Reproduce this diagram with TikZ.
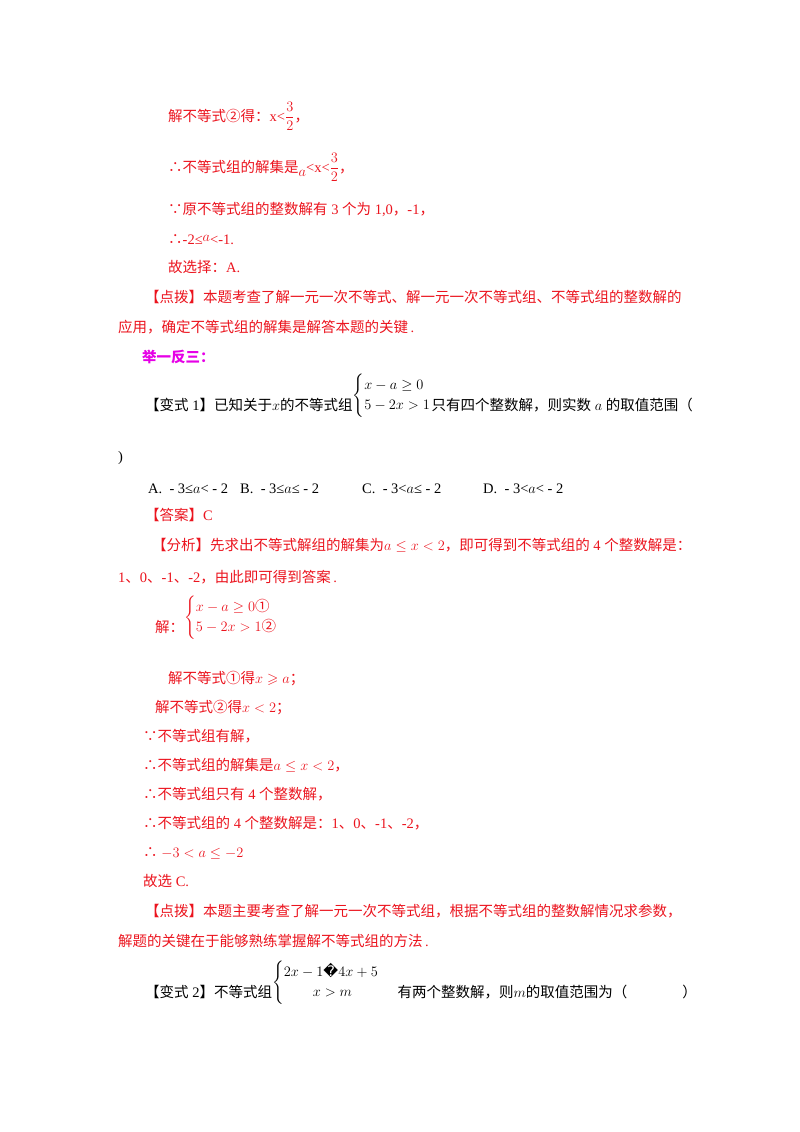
\documentclass[tikz,border=0pt]{standalone}
\usepackage{amsmath,amssymb}
\usepackage{fontspec}
\setmainfont{Liberation Serif}
\newfontfamily\cjk{Noto Sans CJK SC}
\newfontfamily\dv{DejaVu Sans}
\newcommand\zh[1]{{\cjk #1}}
\definecolor{tred}{RGB}{235,20,30}
\definecolor{tmag}{RGB}{230,0,230}
\tikzset{t/.style={anchor=base west,inner sep=0pt,font=\fontsize{14.5}{17}\selectfont},
 r/.style={t,text=tred}}
\begin{document}
\begin{tikzpicture}[x=1pt,y=-1pt]
\useasboundingbox (0,0) rectangle (800,1132);
\node[r] (l1) at (168,121) {\zh{解不等式②得：}x<$\dfrac{3}{2}$\zh{，}};
\node[r] (l2) at (168,172) {\zh{∴不等式组的解集是}\raisebox{-4pt}{$a$}<x<$\dfrac{3}{2}$\zh{，}};
\node[r] (l3) at (168,214) {\zh{∵原不等式组的整数解有} 3 \zh{个为} 1,0\zh{，}-1\zh{，}};
\node[r] (l4) at (168,244) {\zh{∴}-2≤\raisebox{3pt}{$a$}<-1.};
\node[r] (l5) at (168,272) {\zh{故选择：}A.};
\node[r] (l6) at (145,302) {\zh{【点拨】本题考查了解一元一次不等式、解一元一次不等式组、不等式组的整数解的}};
\node[r] (l7) at (118,332) {\zh{应用，确定不等式组的解集是解答本题的关键}\,.};
\node[t,text=tmag,font=\fontsize{14.5}{17}\selectfont\bfseries] (l8) at (142,362) {\zh{举一反三：}};
\node[t] (l9) at (145,410) {\zh{【变式} 1\zh{】已知关于}$x$\zh{的不等式组}\raisebox{11pt}{$\begin{cases}x-a\geq0\\5-2x>1\end{cases}$}\hspace{-14pt}\zh{只有四个整数解，则实数}~$a$~\zh{的取值范围（}};
\node[t] (l10) at (118,461) {)};
\node[t] (oa) at (148,493) {A.\ \ - 3≤$a$< - 2};
\node[t] (ob) at (240,493) {B.\ \ - 3≤$a$≤ - 2};
\node[t] (oc) at (362,493) {C.\ \ - 3<$a$≤ - 2};
\node[t] (od) at (483,493) {D.\ \ - 3<$a$< - 2};
\node[r] (l12) at (145,520) {\zh{【答案】}C};
\node[r] (l13) at (152,550) {\zh{【分析】先求出不等式解组的解集为}$a\leq x<2$\zh{，即可得到不等式组的} 4 \zh{个整数解是：}};
\node[r] (l14) at (118,582) {1\zh{、}0\zh{、}-1\zh{、}-2\zh{，由此即可得到答案}\,.};
\node[r] (l15) at (155,632) {\zh{解：}\raisebox{11pt}{$\begin{cases}x-a\geq0\text{\zh{①}}\\5-2x>1\text{\zh{②}}\end{cases}$}};
\node[r] (l16) at (168,683) {\zh{解不等式①得}$x\geqslant a$\zh{；}};
\node[r] (l17) at (155,712) {\zh{解不等式②得}$x<2$\zh{；}};
\node[r] (l18) at (143,741) {\zh{∵不等式组有解，}};
\node[r] (l19) at (143,770) {\zh{∴不等式组的解集是}$a\leq x<2$\zh{，}};
\node[r] (l20) at (143,799) {\zh{∴不等式组只有} 4 \zh{个整数解，}};
\node[r] (l21) at (143,828) {\zh{∴不等式组的} 4 \zh{个整数解是：}1\zh{、}0\zh{、}-1\zh{、}-2\zh{，}};
\node[r] (l22) at (143,857) {\zh{∴} $-3<a\leq-2$};
\node[r] (l23) at (143,886) {\zh{故选} C.};
\node[r] (l24) at (145,916) {\zh{【点拨】本题主要考查了解一元一次不等式组，根据不等式组的整数解情况求参数，}};
\node[r] (l25) at (118,946) {\zh{解题的关键在于能够熟练掌握解不等式组的方法}\,.};
\node[t] (l26) at (145,997) {\zh{【变式} 2\zh{】不等式组}\raisebox{11pt}{$\begin{cases}2x-1\text{\dv\char"FFFD}4x+5\\\qquad x>m\end{cases}$}\hspace{4pt}\zh{有两个整数解，则}$m$\zh{的取值范围为（}\hspace{55pt}\zh{）}};
\end{tikzpicture}
\end{document}
